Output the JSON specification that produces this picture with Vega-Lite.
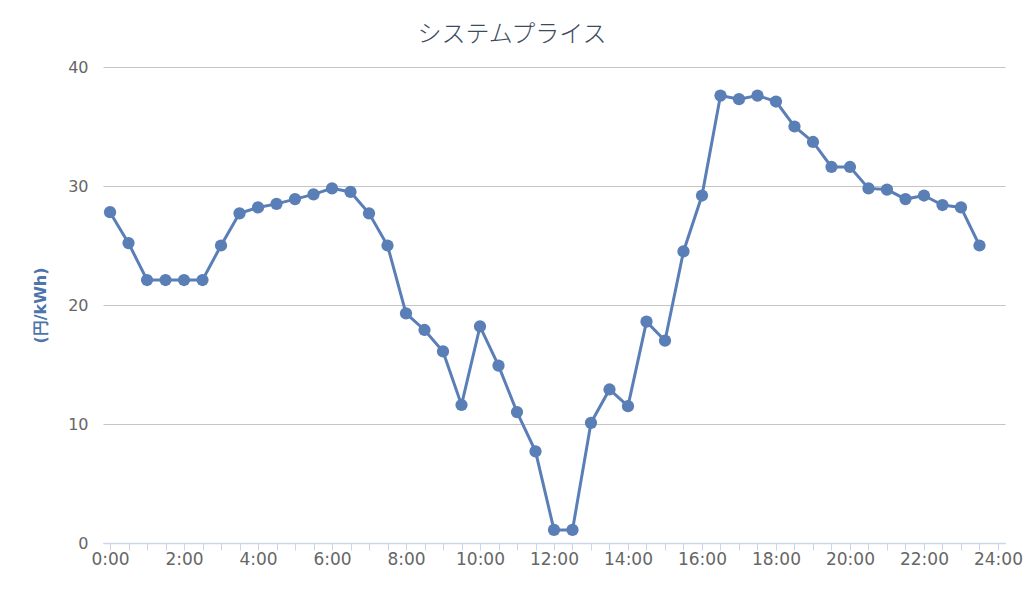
{
  "$schema": "https://vega.github.io/schema/vega-lite/v6.json",
  "autosize": "none",
  "width": 902,
  "height": 476,
  "padding": {"left": 103, "top": 67, "right": 19, "bottom": 54},
  "background": "white",
  "title": {
    "text": "システムプライス",
    "font": "Noto Sans CJK JP",
    "fontSize": 24,
    "fontWeight": 300,
    "color": "#3b4a5e",
    "anchor": "middle",
    "dx": -42,
    "offset": 12
  },
  "config": {"view": {"stroke": null}},
  "data": {
    "values": [
      {"hour": 0, "price": 27.8},
      {"hour": 0.5, "price": 25.2},
      {"hour": 1, "price": 22.1},
      {"hour": 1.5, "price": 22.1},
      {"hour": 2, "price": 22.1},
      {"hour": 2.5, "price": 22.1},
      {"hour": 3, "price": 25.0},
      {"hour": 3.5, "price": 27.7},
      {"hour": 4, "price": 28.2},
      {"hour": 4.5, "price": 28.5},
      {"hour": 5, "price": 28.9},
      {"hour": 5.5, "price": 29.3},
      {"hour": 6, "price": 29.8},
      {"hour": 6.5, "price": 29.5},
      {"hour": 7, "price": 27.7},
      {"hour": 7.5, "price": 25.0},
      {"hour": 8, "price": 19.3},
      {"hour": 8.5, "price": 17.9},
      {"hour": 9, "price": 16.1},
      {"hour": 9.5, "price": 11.6},
      {"hour": 10, "price": 18.2},
      {"hour": 10.5, "price": 14.9},
      {"hour": 11, "price": 11.0},
      {"hour": 11.5, "price": 7.7},
      {"hour": 12, "price": 1.1},
      {"hour": 12.5, "price": 1.1},
      {"hour": 13, "price": 10.1},
      {"hour": 13.5, "price": 12.9},
      {"hour": 14, "price": 11.5},
      {"hour": 14.5, "price": 18.6},
      {"hour": 15, "price": 17.0},
      {"hour": 15.5, "price": 24.5},
      {"hour": 16, "price": 29.2},
      {"hour": 16.5, "price": 37.6},
      {"hour": 17, "price": 37.3},
      {"hour": 17.5, "price": 37.6},
      {"hour": 18, "price": 37.1},
      {"hour": 18.5, "price": 35.0},
      {"hour": 19, "price": 33.7},
      {"hour": 19.5, "price": 31.6},
      {"hour": 20, "price": 31.6},
      {"hour": 20.5, "price": 29.8},
      {"hour": 21, "price": 29.7},
      {"hour": 21.5, "price": 28.9},
      {"hour": 22, "price": 29.2},
      {"hour": 22.5, "price": 28.4},
      {"hour": 23, "price": 28.2},
      {"hour": 23.5, "price": 25.0}
    ]
  },
  "encoding": {
    "x": {
      "field": "hour",
      "type": "quantitative",
      "scale": {"domain": [-0.19, 24.19], "nice": false, "zero": false},
      "axis": {
        "title": null,
        "values": [0,0.5,1,1.5,2,2.5,3,3.5,4,4.5,5,5.5,6,6.5,7,7.5,8,8.5,9,9.5,10,10.5,11,11.5,12,12.5,13,13.5,14,14.5,15,15.5,16,16.5,17,17.5,18,18.5,19,19.5,20,20.5,21,21.5,22,22.5,23,23.5,24],
        "labelExpr": "datum.value % 2 == 0 ? datum.value + ':00' : ''",
        "labelFont": "DejaVu Sans",
        "labelFontSize": 17,
        "labelColor": "#666666",
        "labelPadding": 1,
        "labelOverlap": false,
        "labelFlush": false,
        "grid": false,
        "domainColor": "#ccd6eb",
        "domainWidth": 1.5,
        "tickColor": "#ccd6eb",
        "tickSize": 7,
        "tickWidth": 1
      }
    },
    "y": {
      "field": "price",
      "type": "quantitative",
      "scale": {"domain": [0, 40], "nice": false},
      "axis": {
        "title": "(円/kWh)",
        "titleFont": "DejaVu Sans",
        "titleFontSize": 16,
        "titleFontWeight": "bold",
        "titleColor": "#4d74ab",
        "titleAngle": -90,
        "titleX": -63,
        "titleY": 238,
        "titleAlign": "center",
        "titleBaseline": "middle",
        "values": [0, 10, 20, 30, 40],
        "labelFont": "DejaVu Sans",
        "labelFontSize": 16,
        "labelColor": "#666666",
        "labelPadding": 15,
        "ticks": false,
        "domain": false,
        "grid": true,
        "gridColor": "#c4c4c4",
        "gridWidth": 1.2
      }
    }
  },
  "layer": [
    {
      "mark": {"type": "line", "color": "#5a7eb6", "strokeWidth": 3}
    },
    {
      "mark": {"type": "point", "filled": true, "color": "#5a7eb6", "opacity": 1, "size": 150, "shape": "circle"}
    }
  ]
}
